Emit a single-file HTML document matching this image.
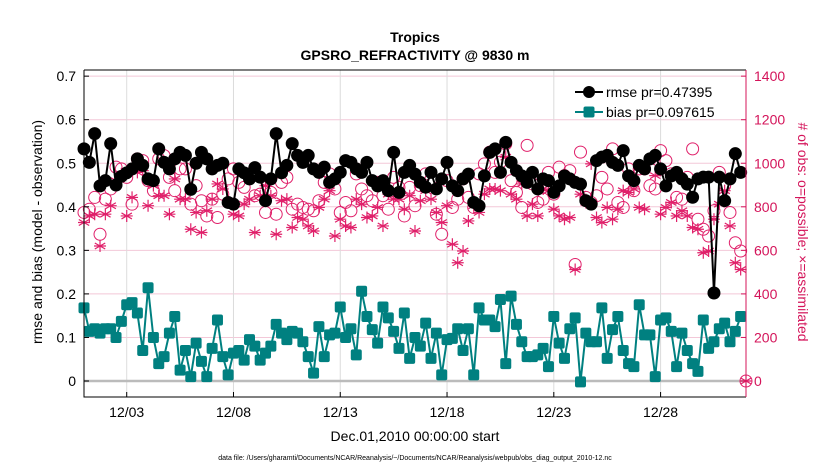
<!DOCTYPE html>
<html><head><meta charset="utf-8"><style>
body{margin:0;background:#fff;font-family:"Liberation Sans",sans-serif;}
svg text{font-family:"Liberation Sans",sans-serif;}
</style></head><body>
<svg id="chart" width="830" height="470" xmlns="http://www.w3.org/2000/svg">
<g id="grid"></g>
<g id="series"></g>
<g id="axes"></g>
<text x="415" y="42" text-anchor="middle" font-size="14" font-weight="bold">Tropics</text>
<text x="415" y="60" text-anchor="middle" font-size="14" font-weight="bold">GPSRO_REFRACTIVITY @ 9830 m</text>
<text transform="translate(42,232) rotate(-90)" text-anchor="middle" font-size="14">rmse and bias (model - observation)</text>
<text transform="translate(798,232) rotate(90)" text-anchor="middle" font-size="14" fill="#d4145a"># of obs: o=possible; ×=assimilated</text>
<text x="415" y="441" text-anchor="middle" font-size="14">Dec.01,2010 00:00:00 start</text>
<text x="415" y="460" text-anchor="middle" font-size="7">data file: /Users/gharamti/Documents/NCAR/Reanalysis/~/Documents/NCAR/Reanalysis/webpub/obs_diag_output_2010-12.nc</text>
<g>
<line x1="575" y1="92" x2="603" y2="92" stroke="#000" stroke-width="2"/>
<circle cx="589" cy="92" r="6" fill="#000"/>
<text x="606" y="97" font-size="14">rmse pr=0.47395</text>
<line x1="575" y1="112" x2="603" y2="112" stroke="#008080" stroke-width="2"/>
<rect x="583.5" y="106.5" width="11" height="11" rx="2" fill="#008080"/>
<text x="606" y="117" font-size="14">bias pr=0.097615</text>
</g>
</svg>
<script>
const rmse=[.533,.502,.568,.448,.46,.545,.45,.47,.478,.487,.51,.495,.464,.46,.533,.502,.487,.51,.525,.518,.44,.5,.525,.51,.487,.495,.5,.41,.406,.487,.478,.464,.49,.468,.414,.464,.568,.478,.495,
.545,.518,.502,.518,.487,.479,.491,.456,.464,.479,.506,.502,.487,.479,.502,.46,.448,.46,.437,.525,.433,.479,.495,.475,.456,.445,.479,.441,.464,.502,.448,.437,.464,.475,.41,.402,.471,.525,.533,.479,.548,.502,.483,.471,.456,
.479,.441,.464,.46,.433,.448,.471,.464,.456,.452,.414,.406,.506,.514,.518,.502,.495,.529,.471,.46,.495,.487,.51,.518,.487,.448,.471,.479,.464,.452,.422,.464,.468,.468,.202,.468,.414,.464,.522,.479];
const bias=[.168,.114,.12,.11,.12,.12,.10,.137,.175,.18,.156,.07,.214,.10,.04,.056,.11,.148,.025,.07,.01,.087,.045,.01,.075,.14,.056,.014,.064,.07,.048,.095,.08,.048,.064,.08,.13,.11,.095,
.114,.11,.09,.056,.018,.125,.056,.106,.11,.17,.10,.12,.06,.206,.148,.118,.087,.17,.145,.114,.075,.156,.052,.10,.08,.133,.052,.11,.014,.095,.098,.12,.07,.12,.014,.168,.14,.14,.125,.187,.04,.195,.13,.09,.056,
.056,.06,.075,.033,.148,.087,.052,.12,.145,-.002,.11,.09,.09,.168,.052,.118,.148,.07,.04,.033,.175,.106,.106,.01,.14,.145,.114,.033,.11,.07,.04,.022,.14,.075,.09,.12,.133,.09,.114,.148];
const possible=[774,789,843,674,835,882,982,974,935,812,1020,1012,920,874,1020,1035,935,874,974,974,812,897,828,758,835,751,858,928,974,912,889,951,851,858,774,866,766,912,935,
789,812,797,789,782,828,912,951,882,774,820,782,951,882,851,828,912,851,789,935,889,758,889,805,897,951,928,766,674,920,797,835,928,843,797,951,997,1051,958,1005,1089,920,866,797,1082,
905,820,835,958,858,982,943,966,535,1051,843,820,851,935,882,1066,820,797,974,874,974,974,897,882,1058,1012,951,843,835,935,1066,743,697,666,782,958,897,774,635,597,0];
const assimilated=[728,758,766,620,766,805,920,951,758,843,958,966,805,897,851,851,766,928,835,835,697,774,682,782,835,905,882,820,766,758,812,835,682,851,897,851,674,828,835,
705,751,743,712,689,797,835,874,666,743,712,705,835,812,751,758,797,712,858,835,835,789,851,689,828,874,835,774,728,805,628,543,597,735,805,774,858,882,882,874,1028,858,835,905,758,
812,758,882,874,789,758,743,751,512,858,820,997,751,728,797,743,789,874,866,882,797,789,1005,943,766,797,820,758,782,758,705,697,589,597,743,812,874,712,543,512,0];
const leftTicks=["0","0.1","0.2","0.3","0.4","0.5","0.6","0.7"];
const rightTicks=["0","200","400","600","800","1000","1200","1400"];
const dateTicks=["12/03","12/08","12/13","12/18","12/23","12/28"];
const dateTickDays=[2,7,12,17,22,27];

const X0=84,X1=746,Y0=70,Y1=397;
const NS='http://www.w3.org/2000/svg';
const xs=d=>X0+(d/31)*(X1-X0);
const yl=v=>381-v*435.5;
const yr=c=>yl(c/2000);
function mk(parent,tag,attrs){const e=document.createElementNS(NS,tag);for(const k in attrs)e.setAttribute(k,attrs[k]);parent.appendChild(e);return e;}
const G=document.getElementById('grid'),S=document.getElementById('series'),A=document.getElementById('axes');
mk(G,'rect',{x:X0,y:Y0,width:X1-X0,height:Y1-Y0,fill:'#fff'});
leftTicks.forEach((t,i)=>{const y=yl(parseFloat(t));
 const l=mk(G,'line',{x1:X0,x2:X1,y1:y,y2:y,stroke:'#f3c8d8','stroke-width':1});
 
 
 const tl=mk(A,'line',{x1:X0,x2:X0+5,y1:y,y2:y,stroke:'#000'});
 
 
 const tx=mk(A,'text',{x:X0-8,y:y+5,'text-anchor':'end','font-size':14});tx.textContent=t;
 
 
});
rightTicks.forEach(t=>{const y=yr(parseFloat(t));
 const tl=mk(A,'line',{x1:X1-5,x2:X1,y1:y,y2:y,stroke:'#d4145a'});
 
 
 const tx=mk(A,'text',{x:X1+8,y:y+5,'font-size':14,fill:'#d4145a'});tx.textContent=t;
 
 
});
dateTicks.forEach((t,i)=>{const x=xs(dateTickDays[i]);
 const l=mk(G,'line',{x1:x,x2:x,y1:Y0,y2:Y1,stroke:'#dcdcdc'});
 
 
 const tl=mk(A,'line',{x1:x,x2:x,y1:Y1,y2:Y1-5,stroke:'#000'});
 
 
 const tx=mk(A,'text',{x:x,y:417,'text-anchor':'middle','font-size':14});tx.textContent=t;
 
 
});
const zl=mk(G,'line',{x1:X0,x2:X1,y1:yl(0),y2:yl(0),stroke:'#bbb','stroke-width':2.5});


const day=i=>i*0.25;
// possible circles
possible.forEach((c,i)=>{const d=i<124?day(i):31;
 const e=mk(S,'circle',{cx:xs(d),cy:yr(c),r:6,fill:'none',stroke:'#e0206a','stroke-width':1});
 
 
});
assimilated.forEach((c,i)=>{const d=i<124?day(i):31;const x=xs(d),y=yr(c),r=6;
 let p='';for(let k=0;k<3;k++){const a=Math.PI/2+k*Math.PI/3;p+=`M${x+r*Math.cos(a)},${y+r*Math.sin(a)}L${x-r*Math.cos(a)},${y-r*Math.sin(a)}`;}
 p+=`M${x-r},${y}L${x+r},${y}`;
 const e=mk(S,'path',{d:p,stroke:'#e0206a','stroke-width':1.2,fill:'none'});
 
 
});
const bl=mk(S,'polyline',{points:bias.map((v,i)=>xs(day(i))+','+yl(v)).join(' '),fill:'none',stroke:'#008080','stroke-width':2});


bias.forEach((v,i)=>{const e=mk(S,'rect',{x:xs(day(i))-5.5,y:yl(v)-5.5,width:11,height:11,rx:2,fill:'#008080'});
 
 
});
const rl=mk(S,'polyline',{points:rmse.map((v,i)=>xs(day(i))+','+yl(v)).join(' '),fill:'none',stroke:'#000','stroke-width':2});


rmse.forEach((v,i)=>{const e=mk(S,'circle',{cx:xs(day(i)),cy:yl(v),r:6.5,fill:'#000'});
 
 
});
const la=mk(A,'path',{d:`M${X0},${Y0}V${Y1}H${X1}`,stroke:'#000',fill:'none'});


const ta=mk(A,'line',{x1:X0,x2:X1,y1:Y0,y2:Y0,stroke:'#000'});


const ra=mk(A,'line',{x1:X1,x2:X1,y1:Y0,y2:Y1,stroke:'#d4145a'});


</script>
</body></html>
